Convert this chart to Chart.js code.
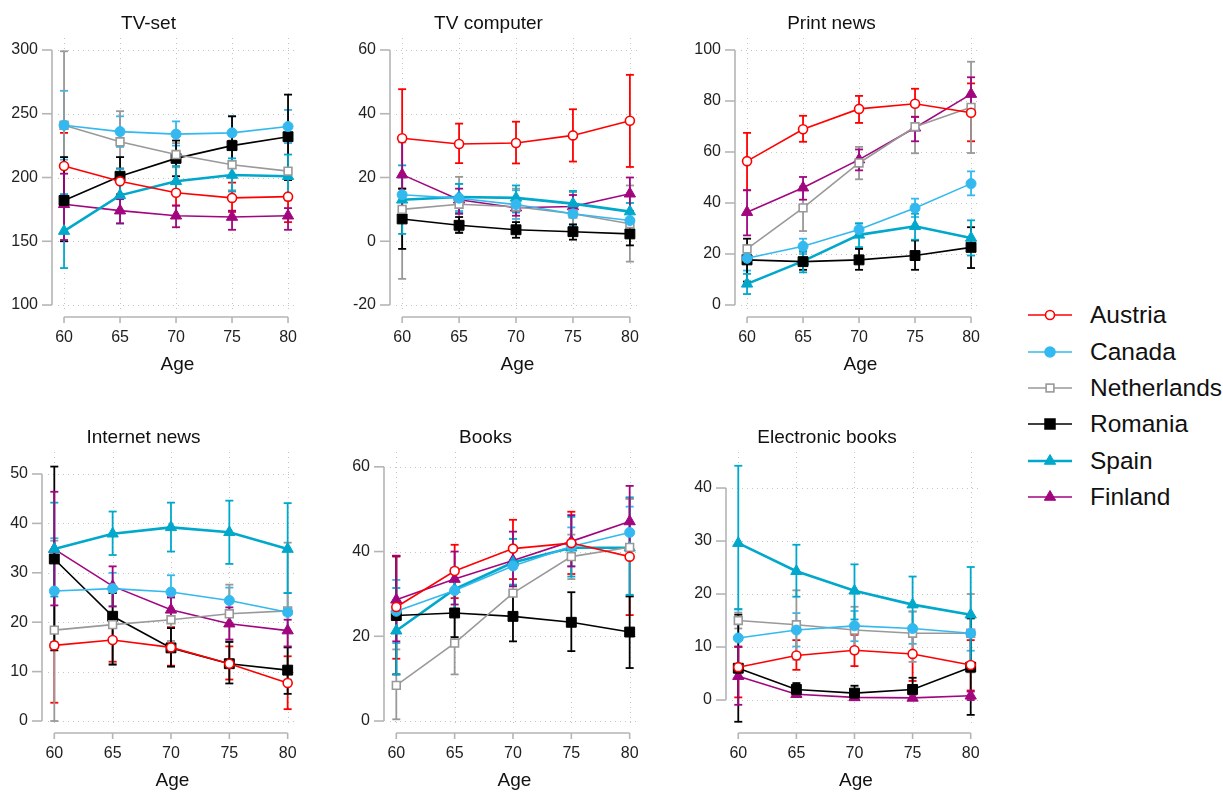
<!DOCTYPE html>
<html>
<head>
<meta charset="utf-8">
<script src="https://cdn.jsdelivr.net/npm/chart.js@4.4.1/dist/chart.umd.min.js"></script>
<style>
  html, body { margin: 0; padding: 0; background: #fff; overflow: hidden; }
  #page { position: relative; width: 1223px; height: 792px; }
  #page canvas { position: absolute; }
  #legend { position: absolute; left: 1026px; top: 297px; font-family: "Liberation Sans", Arial, sans-serif; font-size: 24.5px; color: #111; }
  .row { display: flex; align-items: center; height: 36.4px; }
  .row svg { margin-right: 16px; }
</style>
</head>
<body>
<div id="page"><div id="legend"></div></div>
<script>
// x categories and series names
const ages = [60, 65, 70, 75, 80];
const countries = ["Austria", "Canada", "Netherlands", "Romania", "Spain", "Finland"];

// TV-set (rows follow countries order)
const tvSetMean = [[209, 197, 188, 184, 185], [241, 236, 234, 235, 240], [241, 228, 218, 210, 205], [182, 201, 215, 225, 232], [158, 186, 197, 202, 201], [179, 174, 170, 169, 170]];
const tvSetLow = [[183, 187, 178, 173, 165], [214, 224, 225, 223, 227], [184, 203, 208, 190, 182], [150, 186, 201, 201, 198], [129, 164, 187, 189, 185], [151, 164, 161, 159, 159]];
const tvSetHigh = [[235, 207, 197, 196, 206], [268, 248, 244, 248, 253], [299, 252, 227, 229, 229], [216, 216, 229, 248, 265], [187, 207, 209, 215, 218], [203, 183, 178, 174, 176]];
const tvSetTicks = [100, 150, 200, 250, 300];

// TV computer
const tvCompMean = [[32.3, 30.5, 30.8, 33.2, 37.8], [14.6, 13.5, 11.5, 8.6, 6.5], [10, 11.6, 10.8, 8.6, 5.5], [7, 5, 3.6, 3, 2.3], [13, 13.9, 13.6, 11.8, 9.3], [20.9, 13, 10.5, 10.9, 14.9]];
const tvCompLow = [[16.5, 24.5, 24.4, 25, 23.3], [9, 9.5, 7, 5, 3.5], [-11.8, 2.9, 4.4, 2.3, -6.4], [-2.4, 2.6, 1.1, 0.5, -1.3], [2.3, 9, 9, 8, 6.5], [9.7, 8.6, 8, 7.5, 9.4]];
const tvCompHigh = [[47.7, 36.9, 37.5, 41.4, 52.2], [20, 18, 16, 12, 9.5], [31, 20.2, 16.5, 15.4, 17.5], [16.5, 7.6, 6, 5.3, 6.5], [23.8, 18, 17.5, 15.8, 12], [32, 16.5, 13, 14.5, 20]];
const tvCompTicks = [-20, 0, 20, 40, 60];

// Print news
const printMean = [[56.4, 68.9, 76.9, 78.9, 75.4], [18.3, 23, 29.6, 38, 47.6], [22, 38.1, 55.7, 69.9, 77.5], [17.7, 17, 17.7, 19.4, 22.6], [8.3, 17.2, 27.5, 30.9, 26.3], [36.4, 46, 57, 69.5, 82.7]];
const printLow = [[45, 64, 71.4, 73.8, 64.2], [13.5, 20, 27.3, 34.5, 43], [20, 29, 49.3, 59.5, 59.6], [9.2, 13.8, 13.8, 13.8, 14.5], [4.3, 12.8, 22.7, 25.6, 19.4], [27.3, 41.3, 52.8, 64.2, 75.8]];
const printHigh = [[67.5, 74.2, 82, 84.8, 86.9], [23.3, 26, 32, 41.7, 52.4], [23.5, 46.5, 62, 80, 95.4], [26, 21, 22, 25.3, 30.5], [12.2, 21, 32, 35.8, 33.2], [45, 50.2, 61, 73.8, 89.3]];
const printTicks = [0, 20, 40, 60, 80, 100];

// Internet news
const netMean = [[15.3, 16.4, 14.9, 11.6, 7.7], [26.3, 26.8, 26.1, 24.4, 22], [18.4, 19.5, 20.5, 21.7, 22.3], [32.8, 21.2, 14.8, 11.6, 10.3], [34.8, 37.9, 39.2, 38.2, 34.8], [34.8, 27.3, 22.5, 19.7, 18.3]];
const netLow = [[3.7, 12, 11.2, 8.4, 2.4], [16, 23.2, 22.5, 21.5, 17.8], [0, 11.6, 16.2, 16.2, 8.4], [14.3, 11.4, 11, 7.6, 5.5], [25.2, 33.6, 34.3, 31.8, 25.9], [23.4, 23.2, 19.9, 16.5, 15.1]];
const netHigh = [[26.7, 21, 19, 15.1, 13.1], [37, 30, 29.5, 27, 25.9], [36.5, 25.9, 25.2, 27.6, 36.1], [51.5, 25.9, 18.8, 16, 14.9], [44.2, 42.4, 44.2, 44.6, 44.1], [46.4, 31.3, 25, 23, 20.5]];
const netTicks = [0, 10, 20, 30, 40, 50];

// Books
const booksMean = [[26.9, 35.4, 40.7, 42, 38.8], [25.9, 30.8, 36.6, 41.2, 44.5], [8.4, 18.4, 30.2, 38.8, 41], [24.9, 25.5, 24.7, 23.3, 21], [21.3, 31.1, 37.4, 40.9, 40.9], [28.6, 33.5, 37.9, 42.4, 47.1]];
const booksLow = [[14.7, 29, 33.5, 34.7, 25], [18.4, 25.9, 31.8, 36.5, 38.8], [0.4, 11, 24, 33.5, 29.5], [11, 19.8, 18.8, 16.5, 12.5], [11, 26.3, 32.2, 34.1, 29.8], [18.8, 27.5, 31.8, 36.5, 38.8]];
const booksHigh = [[38.8, 41.6, 47.5, 49.4, 52.5], [33.3, 36.2, 43, 45.7, 50.6], [16.9, 25.1, 36, 44, 52.5], [39, 31, 30.6, 30.4, 29.4], [31.4, 36, 43, 48.2, 52.8], [39, 40, 44.7, 48.6, 55.5]];
const booksTicks = [0, 20, 40, 60];

// Electronic books
const ebookMean = [[6.2, 8.4, 9.4, 8.7, 6.6], [11.7, 13.2, 14, 13.5, 12.6], [15, 14.2, 13.2, 12.6, 12.6], [6, 2, 1.3, 2, 6.2], [29.6, 24.3, 20.6, 18, 16.1], [4.5, 1.1, 0.5, 0.4, 0.8]];
const ebookLow = [[0.5, 5.7, 6.4, 3.6, 1.8], [6.3, 10.1, 11.1, 10.6, 9.3], [13.5, 7.6, 8.8, 7.2, 5.2], [-4.1, 0.9, 0.3, 0, -2.8], [17.1, 19.5, 15.2, 12.7, 6.9], [-0.9, 0.6, 0.1, 0, 0]];
const ebookHigh = [[10, 11.3, 12.3, 13.8, 11.3], [17.2, 16.4, 16.8, 16.7, 15.8], [16.5, 20.7, 17.6, 16.7, 20], [16.1, 3.2, 2.7, 4.2, 15.4], [44.2, 29.3, 25.6, 23.3, 25.1], [10.1, 1.6, 0.9, 1, 1.6]];
const ebookTicks = [0, 10, 20, 30, 40];

// series styles
const styles = [
  { color: "#ff0000", shape: "circle", r: 4.5, open: true, width: 1.6 },
  { color: "#33b9ef", shape: "circle", r: 5, open: false, width: 1.6 },
  { color: "#999999", shape: "rect", r: 5.5, open: true, width: 1.6 },
  { color: "#000000", shape: "rect", r: 7, open: false, width: 1.6 },
  { color: "#00a8cb", shape: "triangle", r: 6.5, open: false, width: 2.6 },
  { color: "#a2067f", shape: "triangle", r: 6.5, open: false, width: 1.6 },
];

const FONT = "'Liberation Sans', Arial, sans-serif";
const X_MIN = 59.46, X_MAX = 80.8;

const panels = [
  { title: "TV-set", mean: tvSetMean, low: tvSetLow, high: tvSetHigh, ticks: tvSetTicks, yMin: 96.1, yMax: 309.4, left: 58, right: 297, row: 0 },
  { title: "TV computer", mean: tvCompMean, low: tvCompLow, high: tvCompHigh, ticks: tvCompTicks, yMin: -21.57, yMax: 63.76, left: 396, right: 639, row: 0 },
  { title: "Print news", mean: printMean, low: printLow, high: printHigh, ticks: printTicks, yMin: -1.96, yMax: 104.7, left: 741, right: 980, row: 0 },
  { title: "Internet news", mean: netMean, low: netLow, high: netHigh, ticks: netTicks, yMin: -1.01, yMax: 54.45, left: 48, right: 297, row: 1 },
  { title: "Books", mean: booksMean, low: booksLow, high: booksHigh, ticks: booksTicks, yMin: -1.18, yMax: 63.5, left: 390, right: 639, row: 1 },
  { title: "Electronic books", mean: ebookMean, low: ebookLow, high: ebookHigh, ticks: ebookTicks, yMin: -4.9, yMax: 46.8, left: 732, right: 980, row: 1 },
];

// grid, offset axes and error bars in the Stata look
const stataPlugin = {
  id: "stata",
  beforeDatasetsDraw(chart, args, opts) {
    const p = opts.panel;
    const { ctx, chartArea: a } = chart;
    const x = chart.scales.x, y = chart.scales.y;
    const seg = (x1, y1, x2, y2) => { ctx.beginPath(); ctx.moveTo(x1, y1); ctx.lineTo(x2, y2); ctx.stroke(); };
    ctx.save();

    ctx.strokeStyle = "#c4c4c4";
    ctx.lineWidth = 1;
    ctx.setLineDash([1, 4]);
    p.ticks.forEach((v) => {
      const py = Math.round(y.getPixelForValue(v)) + 0.5;
      seg(a.left, py, a.right, py);
    });
    ages.forEach((v) => {
      const px = Math.round(x.getPixelForValue(v)) + 0.5;
      seg(px, a.top, px, a.bottom);
    });
    ctx.setLineDash([]);

    ctx.strokeStyle = "#b5b5b5";
    ctx.lineWidth = 1.6;
    const ax = a.left - 6;
    seg(ax, y.getPixelForValue(p.ticks[0]), ax, y.getPixelForValue(p.ticks[p.ticks.length - 1]));
    p.ticks.forEach((v) => seg(ax - 10, y.getPixelForValue(v), ax, y.getPixelForValue(v)));
    const ay = a.bottom + 7;
    seg(x.getPixelForValue(ages[0]), ay, x.getPixelForValue(ages[ages.length - 1]), ay);
    ages.forEach((v) => seg(x.getPixelForValue(v), ay, x.getPixelForValue(v), ay + 6));

    chart.data.datasets.forEach((ds, i) => {
      ctx.strokeStyle = styles[i].color;
      ctx.lineWidth = 1.8;
      ages.forEach((age, j) => {
        const px = x.getPixelForValue(age);
        const lo = y.getPixelForValue(p.low[i][j]);
        const hi = y.getPixelForValue(p.high[i][j]);
        seg(px, lo, px, hi);
        seg(px - 4, lo, px + 4, lo);
        seg(px - 4, hi, px + 4, hi);
      });
    });
    ctx.restore();
  },
};

const page = document.getElementById("page");
const Y_AXIS_W = 58, PAD_R = 8, TITLE_H = 38, X_AXIS_H = 68;

panels.forEach((p) => {
  const areaH = p.row === 0 ? 272 : 274;
  const top = p.row === 0 ? 0 : 414;
  const canvas = document.createElement("canvas");
  canvas.width = p.right - p.left + Y_AXIS_W + PAD_R;
  canvas.height = TITLE_H + areaH + X_AXIS_H;
  canvas.style.left = p.left - Y_AXIS_W + "px";
  canvas.style.top = top + "px";
  page.appendChild(canvas);

  const datasets = countries.map((name, i) => {
    const s = styles[i];
    return {
      label: name,
      data: ages.map((age, j) => ({ x: age, y: p.mean[i][j] })),
      borderColor: s.color,
      backgroundColor: s.color,
      borderWidth: s.width,
      pointStyle: s.shape,
      pointRadius: s.r,
      pointBackgroundColor: s.open ? "#ffffff" : s.color,
      pointBorderColor: s.color,
      pointBorderWidth: s.open ? 1.6 : 1,
      tension: 0,
    };
  });

  new Chart(canvas, {
    type: "line",
    data: { datasets },
    plugins: [stataPlugin],
    options: {
      responsive: false,
      animation: false,
      events: [],
      layout: { padding: { left: 0, right: PAD_R, top: 0, bottom: 0 } },
      plugins: {
        legend: { display: false },
        tooltip: { enabled: false },
        title: {
          display: true,
          text: p.title,
          color: "#111",
          font: { family: FONT, size: 19, weight: "normal" },
          padding: { top: 12.6, bottom: 2.6 },
        },
        stata: { panel: p },
      },
      scales: {
        x: {
          type: "linear",
          min: X_MIN,
          max: X_MAX,
          afterBuildTicks: (axis) => { axis.ticks = ages.map((v) => ({ value: v })); },
          afterFit: (axis) => { axis.height = X_AXIS_H; axis.paddingLeft = 0; axis.paddingRight = 0; },
          grid: { display: false, drawTicks: false },
          border: { display: false },
          ticks: { padding: 18, color: "#222", maxRotation: 0, font: { family: FONT, size: 16 } },
          title: { display: true, text: "Age", color: "#111", font: { family: FONT, size: 19 }, padding: { top: 0, bottom: 2 } },
        },
        y: {
          type: "linear",
          min: p.yMin,
          max: p.yMax,
          afterBuildTicks: (axis) => { axis.ticks = p.ticks.map((v) => ({ value: v })); },
          afterFit: (axis) => { axis.width = Y_AXIS_W; axis.paddingTop = 0; axis.paddingBottom = 0; },
          grid: { display: false, drawTicks: false },
          border: { display: false },
          ticks: { padding: 20, color: "#222", font: { family: FONT, size: 16 } },
        },
      },
    },
  });
});

// legend
const legend = document.getElementById("legend");
countries.forEach((name, i) => {
  const s = styles[i];
  const fill = s.open ? "#ffffff" : s.color;
  let mark = "";
  if (s.shape === "circle") {
    mark = `<circle cx="24" cy="18" r="${s.r}" fill="${fill}" stroke="${s.color}" stroke-width="1.6"/>`;
  } else if (s.shape === "rect") {
    const h = s.r * Math.SQRT1_2;
    mark = `<rect x="${24 - h}" y="${18 - h}" width="${2 * h}" height="${2 * h}" fill="${fill}" stroke="${s.color}" stroke-width="1.6"/>`;
  } else {
    const r = s.r;
    const pts = [[24, 18 - r], [24 + r * 0.866, 18 + r / 2], [24 - r * 0.866, 18 + r / 2]].map((q) => q.join(",")).join(" ");
    mark = `<polygon points="${pts}" fill="${fill}" stroke="${s.color}" stroke-width="1"/>`;
  }
  const row = document.createElement("div");
  row.className = "row";
  row.innerHTML = `<svg width="48" height="36"><line x1="2" y1="18" x2="46" y2="18" stroke="${s.color}" stroke-width="${s.width}"/>${mark}</svg><span>${name}</span>`;
  legend.appendChild(row);
});
</script>
</body>
</html>
